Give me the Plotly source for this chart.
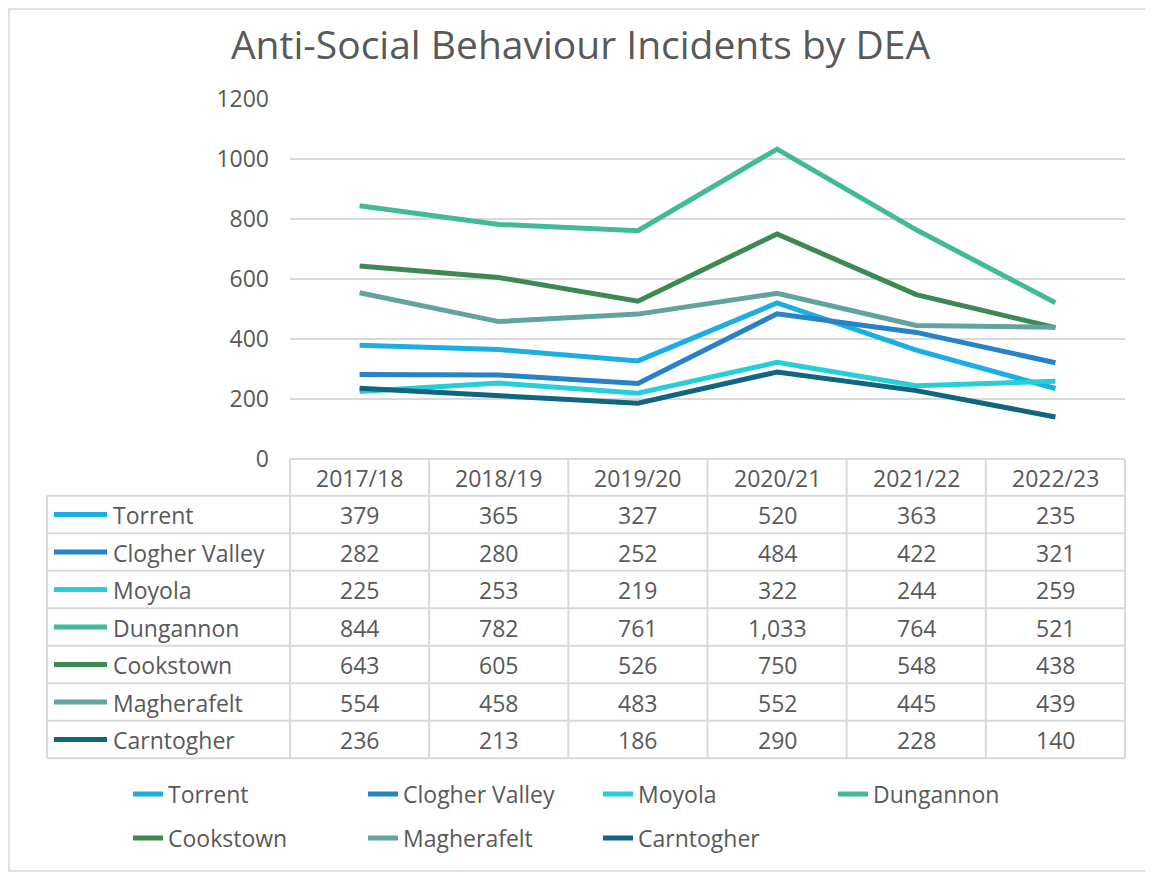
import plotly.graph_objects as go

years = ["2017/18", "2018/19", "2019/20", "2020/21", "2021/22", "2022/23"]
names = ["Torrent", "Clogher Valley", "Moyola", "Dungannon", "Cookstown", "Magherafelt", "Carntogher"]
torrent = [379, 365, 327, 520, 363, 235]
clogher_valley = [282, 280, 252, 484, 422, 321]
moyola = [225, 253, 219, 322, 244, 259]
dungannon = [844, 782, 761, 1033, 764, 521]
cookstown = [643, 605, 526, 750, 548, 438]
magherafelt = [554, 458, 483, 552, 445, 439]
carntogher = [236, 213, 186, 290, 228, 140]
series = [torrent, clogher_valley, moyola, dungannon, cookstown, magherafelt, carntogher]
colors = ["#1CADE4", "#2683C6", "#27CED7", "#42BA97", "#3E8853", "#62A39F", "#10657F"]

# page body has an 8px margin, so the figure is drawn 8px in from the window edge
OFF = 8
W, H = 1153 - OFF, 872 - OFF
L, R, T, B = 290, 1125, 99, 459  # plot area, in window pixels
GRID = "#D9D9D9"
TXT = "#595959"
FONT = "Open Sans"
FS = 23


def px(x):
    return (x - L) / (R - L)


def py(y):
    return (B - y) / (B - T)


fig = go.Figure()
for i, (n, vals) in enumerate(zip(names, series)):
    fig.add_trace(go.Scatter(
        x=years, y=vals, name=n, mode="lines",
        line=dict(color=colors[i], width=5),
        legend="legend" if i < 4 else "legend2",
    ))

shapes = []
annotations = []


def label(text, x, y, xanchor="center", size=FS):
    annotations.append(dict(text=text, xref="paper", yref="paper", showarrow=False,
                            x=px(x), y=py(y), xanchor=xanchor, yanchor="middle",
                            font=dict(size=size, color=TXT, family=FONT)))


# data table
col_w = (R - L) / len(years)
row_top = 495.7
row_h = 37.5
table_bottom = row_top + row_h * len(names)
line = dict(color=GRID, width=2)

for i in range(len(years) + 1):
    x = L + i * col_w
    shapes.append(dict(type="line", xref="paper", yref="paper",
                       x0=px(x), x1=px(x), y0=py(B), y1=py(table_bottom), line=line))
shapes.append(dict(type="line", xref="paper", yref="paper",
                   x0=px(47), x1=px(47), y0=py(row_top), y1=py(table_bottom), line=line))
shapes.append(dict(type="line", xref="paper", yref="paper",
                   x0=px(L), x1=px(R), y0=py(B), y1=py(B), line=line))
for j in range(len(names) + 1):
    y = row_top + j * row_h
    shapes.append(dict(type="line", xref="paper", yref="paper",
                       x0=px(47), x1=px(R), y0=py(y), y1=py(y), line=line))

for i, yr in enumerate(years):
    label(yr, L + (i + 0.5) * col_w, (B + row_top) / 2 + 1)

for j, (n, vals) in enumerate(zip(names, series)):
    yc = row_top + (j + 0.5) * row_h
    shapes.append(dict(type="line", xref="paper", yref="paper",
                       x0=px(54), x1=px(107), y0=py(yc), y1=py(yc),
                       line=dict(color=colors[j], width=5)))
    label(n, 111, yc + 1, xanchor="left")
    for i, v in enumerate(vals):
        label(f"{v:,}", L + (i + 0.5) * col_w, yc + 1)

# outer chart border
shapes.append(dict(type="rect", xref="paper", yref="paper",
                   x0=px(OFF + 1), x1=px(1151), y0=py(OFF + 1), y1=py(871),
                   line=dict(color=GRID, width=1.5)))

legend_common = dict(orientation="h", entrywidth=190, entrywidthmode="pixels",
                     xanchor="left", yanchor="middle", bgcolor="rgba(0,0,0,0)",
                     font=dict(size=FS, color=TXT, family=FONT))

fig.update_layout(
    width=W, height=H,
    margin=dict(l=L - OFF, r=W - (R - OFF), t=T - OFF, b=H - (B - OFF)),
    paper_bgcolor="white", plot_bgcolor="white",
    title=dict(text="Anti-Social Behaviour Incidents by DEA", x=0.5, xanchor="center",
               xref="container", y=1 - (45 - OFF) / H, yanchor="middle",
               font=dict(size=39, color=TXT, family=FONT)),
    xaxis=dict(showticklabels=False, showgrid=False, showline=False, zeroline=False,
               range=[-0.5, len(years) - 0.5]),
    yaxis=dict(range=[0, 1200], dtick=200, gridcolor=GRID, gridwidth=1.5, zeroline=False,
               showline=False, ticklabelstandoff=20,
               tickfont=dict(size=FS, color=TXT, family=FONT)),
    legend=dict(x=px(128), y=py(794), **legend_common),
    legend2=dict(x=px(128), y=py(838), **legend_common),
    shapes=shapes,
    annotations=annotations,
    font=dict(family=FONT, color=TXT),
)

fig.write_html("out.html")
